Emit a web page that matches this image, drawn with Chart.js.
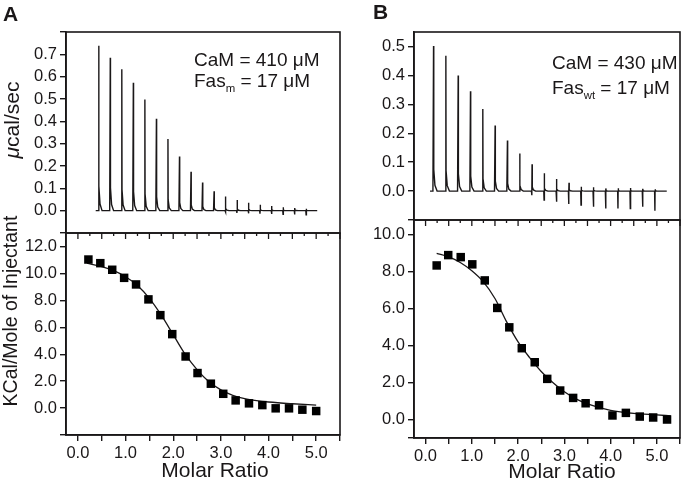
<!DOCTYPE html>
<html>
<head>
<meta charset="utf-8">
<script src="https://cdn.jsdelivr.net/npm/chart.js@4.4.1/dist/chart.umd.min.js"></script>
<style>
  body { margin: 0; background: #fff; width: 693px; height: 482px; overflow: hidden; position: relative;
         font-family: "Liberation Sans", Arial, sans-serif; color: #1a1718; }
  canvas { position: absolute; left: 0; top: 0; }
  .t { position: absolute; white-space: nowrap; line-height: 1; }
  .rot { transform: translate(-50%, -50%) rotate(-90deg); }
  .mid { transform: translate(-50%, -50%); }
  .lab { font-size: 21px; font-weight: bold; }
  .ann { font-size: 19px; }
  .ttl { font-size: 20px; }
  sub { font-size: 0.6em; vertical-align: -0.4em; line-height: 0; }
</style>
</head>
<body>
<canvas id="topA" width="693" height="482"></canvas>
<canvas id="botA" width="693" height="482"></canvas>
<canvas id="topB" width="693" height="482"></canvas>
<canvas id="botB" width="693" height="482"></canvas>

<div class="t lab" style="left:3px;top:3px">A</div>
<div class="t lab" style="left:373px;top:1px">B</div>
<div class="t ann" style="left:194px;top:50px">CaM = 410 μM</div>
<div class="t ann" style="left:194px;top:71px">Fas<sub>m</sub> = 17 μM</div>
<div class="t ann" style="left:552px;top:53px">CaM = 430 μM</div>
<div class="t ann" style="left:552px;top:78px">Fas<sub>wt</sub> = 17 μM</div>
<div class="t ttl rot" style="left:11px;top:120px;font-size:21px"><i>μ</i>cal/sec</div>
<div class="t ttl rot" style="left:11px;top:311px;font-size:19.5px">KCal/Mole of Injectant</div>
<div class="t ttl mid" style="left:215px;top:469px;font-size:21px">Molar Ratio</div>
<div class="t ttl mid" style="left:562px;top:470px;font-size:21px">Molar Ratio</div>

<script>
// ---- panel A : raw heat (Fas_m) ----
const injTimeA = [11.3, 15.3, 19.3, 23.3, 27.3, 31.3, 35.3, 39.3, 43.3, 47.3, 51.3, 55.3, 59.3, 63.3, 67.3, 71.3, 75.3, 79.3, 83.3];
const peakA = [0.738, 0.685, 0.633, 0.573, 0.498, 0.412, 0.321, 0.243, 0.174, 0.126, 0.087, 0.063, 0.048, 0.036, 0.027, 0.021, 0.015, 0.012, 0.009];
const dipA = [0, 0, 0, 0, 0, 0, 0, 0, 0, 0, 0, -0.006, -0.01, -0.012, -0.014, -0.015, -0.016, -0.017, -0.018];
const baseA = [10.3, 87.1];

// ---- panel A : integrated heats ----
const ratioA = [0.22, 0.47, 0.72, 0.97, 1.22, 1.48, 1.73, 1.98, 2.26, 2.51, 2.79, 3.05, 3.31, 3.59, 3.87, 4.15, 4.43, 4.71, 5.0];
const heatA = [11.03, 10.76, 10.27, 9.67, 9.18, 8.07, 6.9, 5.49, 3.83, 2.6, 1.81, 1.06, 0.57, 0.35, 0.22, -0.02, -0.02, -0.12, -0.22];
const fitXA = [0.19, 0.5, 0.75, 1.0, 1.25, 1.5, 1.75, 2.0, 2.25, 2.5, 2.75, 3.0, 3.25, 3.5, 3.75, 4.0, 4.5, 5.0];
const fitYA = [10.76, 10.5, 10.2, 9.75, 9.1, 8.15, 6.9, 5.45, 4.0, 2.85, 1.95, 1.35, 0.95, 0.7, 0.55, 0.45, 0.32, 0.22];

// ---- panel B : raw heat (Fas_wt) ----
const injTimeB = [6.3, 10.3, 14.3, 18.3, 22.3, 26.3, 30.3, 34.3, 38.3, 42.3, 46.3, 50.3, 54.3, 58.3, 62.3, 66.3, 70.3, 74.3, 78.3];
const peakB = [0.502, 0.468, 0.4, 0.345, 0.284, 0.227, 0.175, 0.13, 0.093, 0.062, 0.042, 0.029, 0.015, 0.013, 0.009, 0.01, 0.011, 0.008, 0.006];
const dipB = [0, 0, 0, 0, 0, 0, 0, 0, -0.014, -0.031, -0.037, -0.045, -0.048, -0.054, -0.06, -0.06, -0.06, -0.054, -0.068];
const baseB = [5.2, 82.1];

// ---- panel B : integrated heats ----
const ratioB = [0.24, 0.49, 0.76, 1.01, 1.28, 1.55, 1.81, 2.08, 2.36, 2.63, 2.91, 3.19, 3.46, 3.75, 4.04, 4.33, 4.63, 4.92, 5.22];
const heatB = [8.34, 8.9, 8.79, 8.4, 7.53, 6.04, 4.99, 3.86, 3.1, 2.2, 1.57, 1.17, 0.88, 0.77, 0.22, 0.36, 0.16, 0.11, 0.0];
const fitXB = [0.24, 0.5, 0.75, 1.0, 1.25, 1.5, 1.75, 2.0, 2.25, 2.5, 2.75, 3.0, 3.25, 3.5, 4.0, 4.5, 5.0, 5.3];
const fitYB = [9.0, 8.8, 8.5, 8.05, 7.45, 6.55, 5.3, 4.2, 3.35, 2.6, 2.0, 1.5, 1.12, 0.85, 0.5, 0.33, 0.25, 0.2];

// ---- ticks ----
const yLabelsTopA = [0.0, 0.1, 0.2, 0.3, 0.4, 0.5, 0.6, 0.7];
const yStubsTopA = [-0.1, 0.8];
const yLabelsBotA = [0.0, 2.0, 4.0, 6.0, 8.0, 10.0, 12.0];
const yStubsBotA = [-2.0];
const yLabelsTopB = [0.0, 0.1, 0.2, 0.3, 0.4, 0.5];
const yStubsTopB = [-0.1];
const yLabelsBotB = [0.0, 2.0, 4.0, 6.0, 8.0, 10.0];
const yStubsBotB = [-1.0];
const xLabels = [0.0, 1.0, 2.0, 3.0, 4.0, 5.0];
const xMajor = [0.0, 0.5, 1.0, 1.5, 2.0, 2.5, 3.0, 3.5, 4.0, 4.5, 5.0, 5.5];
const xMinor = [0.25, 0.75, 1.25, 1.75, 2.25, 2.75, 3.25, 3.75, 4.25, 4.75, 5.25];

const INK = "#1a1718";
const TICK_FONT = { family: "Liberation Sans", size: 16.5 };
// spike shape after each injection: [minutes after injection, fraction of peak]
const SHAPE = [[0.12, 0.15], [0.5, 0.04], [1.2, 0]];

function trace(times, peaks, dips, base) {
  const pts = [{ x: base[0], y: 0 }];
  times.forEach((t, i) => {
    pts.push({ x: t - 0.15, y: 0 });
    if (dips[i]) {
      pts.push({ x: t - 0.05, y: dips[i] });
      pts.push({ x: t, y: 0 });
    }
    pts.push({ x: t + 0.05, y: peaks[i] });
    SHAPE.forEach(([dt, f]) => pts.push({ x: t + dt, y: peaks[i] * f }));
  });
  pts.push({ x: base[1], y: 0 });
  return pts;
}

const frameTicks = {
  id: "frameTicks",
  afterDraw(chart, args, opts) {
    const { ctx, chartArea: a } = chart;
    ctx.save();
    ctx.strokeStyle = INK;
    ctx.lineWidth = 1.6;
    ctx.strokeRect(a.left, a.top, a.right - a.left, a.bottom - a.top);
    if (opts.inner) {
      const x = chart.scales.x;
      ctx.lineWidth = 1.3;
      const mark = (v, len) => {
        const px = x.getPixelForValue(v);
        ctx.beginPath();
        ctx.moveTo(px, a.top);
        ctx.lineTo(px, a.top + len);
        ctx.stroke();
      };
      xMajor.forEach(v => mark(v, 6));
      xMinor.forEach(v => mark(v, 3));
    }
    ctx.restore();
  }
};

function yAxis(min, max, labels, stubs, width) {
  const all = labels.concat(stubs);
  return {
    min, max,
    afterBuildTicks: s => { s.ticks = all.map(v => ({ value: v })); },
    afterFit: s => { s.width = width; },
    ticks: { autoSkip: false, color: INK, font: TICK_FONT, padding: 3,
             callback: v => labels.includes(v) ? v.toFixed(1) : "" },
    grid: { drawOnChartArea: false, tickLength: 6, color: INK, lineWidth: 1.4 },
    border: { color: INK, width: 1.6 }
  };
}

function xAxis(height) {
  return {
    type: "linear", min: -0.25, max: 5.5,
    afterBuildTicks: s => { s.ticks = xMajor.map(v => ({ value: v })); },
    afterFit: s => { s.height = height; },
    ticks: { autoSkip: false, maxRotation: 0, color: INK, font: TICK_FONT, padding: 3,
             callback: v => xLabels.includes(v) ? v.toFixed(1) : "" },
    grid: { drawOnChartArea: false, tickLength: 6, color: INK, lineWidth: 1.4 },
    border: { color: INK, width: 1.6 }
  };
}

const common = {
  responsive: false,
  animation: false,
  devicePixelRatio: 1,
  events: [],
  plugins: { legend: { display: false }, tooltip: { enabled: false } }
};

function rawChart(id, pts, tMax, pad, yScale) {
  return new Chart(document.getElementById(id), {
    type: "line",
    plugins: [frameTicks],
    data: { datasets: [{ data: pts, borderColor: INK, borderWidth: 1.4, pointRadius: 0, tension: 0 }] },
    options: {
      ...common,
      layout: { padding: pad },
      plugins: { ...common.plugins, frameTicks: { inner: false } },
      scales: { x: { type: "linear", min: 0, max: tMax, display: false }, y: yScale }
    }
  });
}

function isoChart(id, rx, hy, fx, fy, pad, yScale, xHeight) {
  return new Chart(document.getElementById(id), {
    type: "scatter",
    plugins: [frameTicks],
    data: {
      datasets: [
        { data: rx.map((v, i) => ({ x: v, y: hy[i] })), pointStyle: "rect", pointRadius: 6,
          backgroundColor: "#000", borderWidth: 0 },
        { data: fx.map((v, i) => ({ x: v, y: fy[i] })), showLine: true, pointRadius: 0,
          borderColor: INK, borderWidth: 1.3, cubicInterpolationMode: "monotone" }
      ]
    },
    options: {
      ...common,
      layout: { padding: pad },
      plugins: { ...common.plugins, frameTicks: { inner: true } },
      scales: { x: xAxis(xHeight), y: yScale }
    }
  });
}

try {
  rawChart("topA", trace(injTimeA, peakA, dipA, baseA), 95,
    { left: 0, top: 32, right: 353, bottom: 249 },
    yAxis(-0.1, 0.8, yLabelsTopA, yStubsTopA, 66));
  isoChart("botA", ratioA, heatA, fitXA, fitYA,
    { left: 0, top: 233, right: 353, bottom: 0 },
    yAxis(-2, 13, yLabelsBotA, yStubsBotA, 66), 47);
  rawChart("topB", trace(injTimeB, peakB, dipB, baseB), 86.4,
    { left: 364, top: 32, right: 13, bottom: 262 },
    yAxis(-0.1, 0.55, yLabelsTopB, yStubsTopB, 50));
  isoChart("botB", ratioB, heatB, fitXB, fitYB,
    { left: 364, top: 220, right: 13, bottom: 0 },
    yAxis(-1, 10.8, yLabelsBotB, yStubsBotB, 50), 44);
} catch (error) {
  console.error("CHART CRASH:", error);
}
</script>
</body>
</html>
